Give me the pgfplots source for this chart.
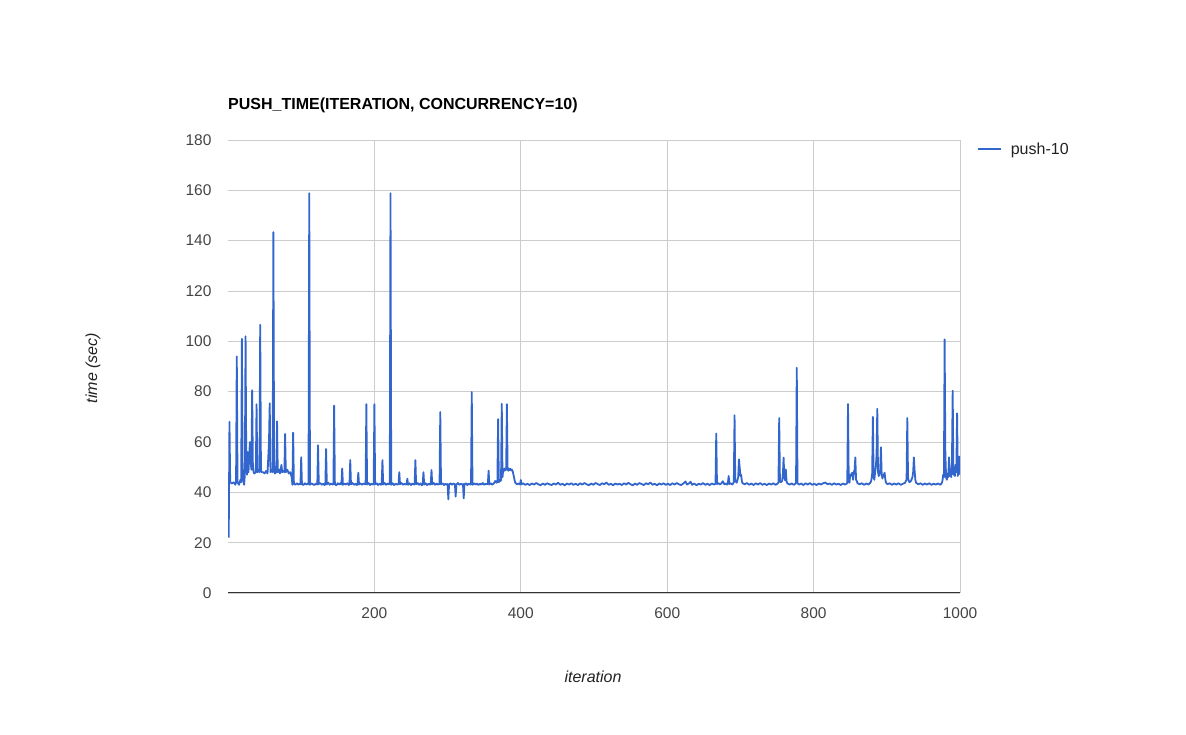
\documentclass[border=0pt]{standalone}
\usepackage{pgfplots}
\pgfplotsset{compat=1.18}
\usepackage{fontspec}
\setmainfont{Liberation Sans}
\definecolor{gline}{HTML}{3366CC}
\definecolor{gridc}{HTML}{CCCCCC}
\definecolor{tickc}{HTML}{444444}
\definecolor{labc}{HTML}{222222}
\begin{document}
\begin{tikzpicture}[x=1pt,y=1pt]
\path (0,0) rectangle (1186,734);
\begin{axis}[
  at={(228pt,141pt)}, anchor=south west,
  scale only axis, width=732pt, height=453pt,
  xmin=0, xmax=1000, ymin=0, ymax=180,
  xtick={200,400,600,800,1000},
  ytick={0,20,40,60,80,100,120,140,160,180},
  grid=major, major grid style={gridc, line width=0.8pt},
  major tick length=0pt,
  axis line style={draw=none},
  /pgf/number format/assume math mode=true,
  /pgf/number format/1000 sep={},
  tick label style={font=\fontsize{15.5}{18}\selectfont, text=tickc},
  xticklabel style={yshift=-11pt},
  yticklabel style={xshift=-13pt},
  legend style={at={(axis description cs:1.023,0.98)}, anchor=west, draw=none, fill=none,
    inner sep=0pt, column sep=7pt, font=\fontsize{16}{18}\selectfont, text=labc},
  legend cell align=left,
  legend image code/.code={\draw[#1] (0pt,0pt) -- (23pt,0pt);},
]
\addplot[gline, line width=1.8pt, line join=round] coordinates {
(1,22)(2,68)(3,44)(5,43.5)(8,44)(10,43)(11,44)(12,94)(13,44)(15,43)(17,45)(18,44)(19,101)(20,46)(22,43)(23,47)(24,102)(25,50)(26,47)(27,56)(28,48)(29,55)(30,60)(31,52)(32,49)(33,80.6)(34,50)(35,48)(36,47.5)(38,48)(39,75)(40,48)(42,49)(43,48)(44,106.6)(45,49)(46,48)(48,48)(50,47.5)(52,48.5)(54,47.5)(56,60)(57,75.4)(58,48)(60,49)(61,48)(62,143.4)(63,50)(64,47.5)(66,48)(67,68.2)(68,48)(70,49)(71,47.5)(73,50.9)(74,48)(76,48.5)(77,48)(78,63.2)(79,48)(81,49)(83,47.5)(85,48)(86,47)(87,46)(88,43)(89,63.7)
(90,43.5)(92,43.0)(94,43.6)(96,43.1)(98,43.4)(99,43.2)(100,53.9)(101,43.3)(103,42.9)(105,43.6)(107,43.1)(109,43.5)(110,43.2)(111,158.8)(112,43.0)(114,43.6)(116,43.2)(118,42.9)(120,43.5)(122,43.1)(123,58.7)(124,43.3)(126,43.7)(128,43.0)(130,43.4)(132,42.9)(133,43.3)(134,57.2)(135,43.2)(137,43.8)(139,43.0)(141,43.5)(143,43.1)(144,43.3)(145,74.4)(146,43.2)(148,42.8)(150,43.6)(152,43.1)(154,43.7)(155,43.2)(156,49.5)(157,43.0)(159,43.5)(161,43.1)(163,43.6)(165,42.9)(166,43.3)(167,52.8)(168,43.2)(170,43.7)(172,43.0)(174,43.4)(176,42.9)(177,43.3)(178,47.8)(179,43.1)(181,43.6)(183,43.0)(185,43.5)(187,43.2)(188,43.4)(189,75.0)(190,43.1)(192,43.7)(194,42.9)(196,43.4)(198,43.1)(199,43.3)(200,75.0)(201,43.2)(203,43.6)(205,42.9)(207,43.5)(209,43.0)(210,43.4)(211,52.8)(212,43.1)(214,43.7)(216,43.0)(218,43.5)(220,43.2)(221,43.4)(222,158.8)(223,43.0)(225,43.6)(227,42.9)(229,43.4)(231,43.1)(233,43.3)(234,48.0)(235,43.2)(237,43.7)(239,43.0)(241,43.4)(243,43.1)(244,43.3)(245,45.4)(246,43.0)(248,43.6)(250,42.9)(252,43.5)(254,43.1)(255,43.3)(256,52.8)(257,43.2)(259,43.7)(261,43.0)(263,43.5)(265,42.8)(266,43.3)(267,48.0)(268,43.1)(270,43.6)(272,42.9)(274,43.4)(276,43.1)(277,43.3)(278,48.9)(279,43.2)(281,43.7)(283,43.0)(285,43.5)(287,43.1)(289,43.3)(290,71.9)(291,43.2)(293,43.6)(295,42.9)(297,43.4)(299,43.0)(300,43.3)(301,37.2)(302,43.1)(304,43.6)(306,43.0)(308,43.5)(310,43.2)(311,38.3)(312,43.1)(314,43.7)(316,43.0)(318,43.4)(320,43.1)(321,43.3)(322,37.6)(323,43.2)(325,43.6)(327,42.9)(329,43.5)(331,43.1)(332,43.3)(333,79.9)(334,43.0)(336,43.6)(338,43.1)(340,43.5)(342,42.9)(344,43.4)(346,43.1)(348,43.7)(350,43.0)(352,43.4)(354,43.2)(355,43.4)(356,48.6)(357,43.1)(359,43.6)(361,43.0)(363,43.5)(365,44.5)(367,43.8)(368,44.2)(369,69.1)(370,44.0)(371,45.0)(372,44.5)(373,44.8)(374,75.2)(375,46.0)(376,49.0)(377,48.5)(378,49.5)(379,48.8)(380,49.2)(381,75.0)(382,49.0)(383,48.6)(384,49.4)(385,48.9)(386,49.3)(387,48.7)(388,49.0)(389,48.3)(390,47.0)(391,45.5)(392,44.2)(393,43.6)(395,43.2)(397,43.5)(399,43.1)(400,44.9)(401,43.2)
(403,43.6)(406,43.0)(409,43.4)(412,42.9)(415,43.5)(418,43.1)(421,43.7)(424,43.2)(427,42.8)(430,43.5)(433,43.0)(436,43.6)(439,43.2)(442,42.9)(445,43.5)(448,43.1)(451,43.8)(454,43.0)(457,43.4)(460,42.8)(463,43.5)(466,43.1)(469,43.6)(472,43.0)(475,43.4)(478,42.9)(481,43.6)(484,43.1)(487,43.7)(490,43.2)(493,42.8)(496,43.5)(499,43.0)(502,43.7)(505,43.3)(508,42.9)(511,43.6)(514,43.2)(517,43.9)(520,43.0)(523,43.4)(526,42.8)(529,43.5)(532,43.1)(535,43.4)(538,42.9)(541,43.6)(544,43.1)(547,43.8)(550,43.2)(553,42.8)(556,43.5)(559,43.0)(562,43.7)(565,43.3)(568,42.9)(571,43.6)(574,43.2)(577,43.9)(580,43.0)(583,43.4)(586,42.8)(589,43.5)(592,43.1)(595,43.6)(598,43.0)(601,43.4)(604,42.9)(607,43.6)(610,43.1)(613,43.7)(616,43.2)(619,42.9)(622,43.5)(625,44.3)(627,43.1)(630,43.6)(632,44.2)(634,43.0)(637,43.5)(640,42.8)(643,43.4)(646,43.1)(649,43.7)(652,43.0)(655,43.4)(658,42.9)(661,43.5)(664,43.1)(666,43.4)(667,63.4)(668,43.3)(670,43.7)(672,43.1)(674,43.6)(676,44.4)(678,43.2)(680,43.5)(682,43.1)(683,44.0)(684,46.5)(685,43.3)(687,43.6)(689,43.1)(691,44.0)(692,70.6)(693,44.5)(695,43.8)(697,46.0)(698,53.1)(699,50.0)(700,46.5)(701,47.0)(702,44.5)(703,43.6)(706,43.2)(709,43.7)(712,43.0)(715,43.5)(718,42.9)(721,43.6)(724,43.1)(727,43.7)(730,43.0)(733,43.4)(736,42.9)(739,43.5)(742,43.1)(745,43.6)(748,43.0)(751,43.5)(752,44.0)(753,69.5)(754,44.5)(755,44.0)(757,44.5)(758,47.0)(759,53.8)(760,46.0)(761,44.8)(762,49.1)(763,44.5)(764,43.6)(767,43.1)(770,43.5)(773,43.0)(775,43.4)(776,43.8)(777,89.5)(778,43.6)(780,43.1)(783,43.5)(786,42.9)(789,43.6)(792,43.1)(795,43.7)(798,43.0)(801,43.4)(804,42.9)(807,43.5)(810,43.1)(813,43.6)(816,43.9)(819,43.2)(822,43.5)(825,43.0)(828,43.6)(831,43.1)(834,43.4)(837,42.9)(840,43.5)(843,43.1)(845,43.4)(846,43.8)(847,75.1)(848,44.5)(849,43.8)(850,47.0)(851,46.5)(852,47.5)(853,47.8)(854,45.0)(855,48.0)(856,49.0)(857,53.9)(858,45.0)(859,44.5)(860,43.6)(863,43.2)(866,43.6)(869,43.0)(872,43.5)(875,43.1)(878,44.0)(879,45.0)(880,47.5)(881,70.0)(882,46.0)(883,45.0)(884,48.0)(885,50.0)(886,55.0)(887,73.2)(888,48.0)(889,46.5)(890,47.0)(891,49.0)(892,57.9)(893,47.0)(894,45.5)(895,46.5)(896,47.0)(897,47.8)(898,45.0)(899,43.8)(901,43.2)(904,43.6)(907,43.0)(910,43.5)(913,43.1)(916,43.6)(919,43.0)(922,43.4)(925,43.8)(926,44.5)(927,45.0)(928,69.5)(929,46.0)(930,44.5)(931,44.0)(933,44.5)(935,46.0)(936,48.0)(937,53.9)(938,48.5)(939,45.0)(940,43.8)(943,43.2)(946,43.6)(949,43.0)(952,43.5)(955,43.1)(958,43.6)(961,43.0)(964,43.4)(967,43.1)(970,43.5)(973,43.0)(975,43.6)(976,44.5)(977,47.0)(978,46.0)(979,100.8)(980,55.0)(981,46.0)(982,45.0)(983,47.5)(984,46.0)(985,53.9)(986,46.5)(987,49.0)(988,46.0)(989,52.0)(990,80.4)(991,47.0)(992,49.5)(993,46.5)(994,51.0)(995,48.0)(996,71.4)(997,46.5)(998,50.0)(999,54.2)(1000,47.0)
};
\addlegendentry{push-10}
\draw[black!80, line width=1pt] (rel axis cs:0,0) -- (rel axis cs:1,0);
\end{axis}
\node[anchor=west, inner sep=0pt, font=\fontsize{16}{18}\selectfont\bfseries] at (228,629) {PUSH\_TIME(ITERATION, CONCURRENCY=10)};
\node[rotate=90, inner sep=0pt, font=\fontsize{16}{18}\selectfont\itshape, text=labc] at (93,366) {time (sec)};
\node[inner sep=0pt, font=\fontsize{16}{18}\selectfont\itshape, text=labc] at (593,57) {iteration};
\end{tikzpicture}
\end{document}
